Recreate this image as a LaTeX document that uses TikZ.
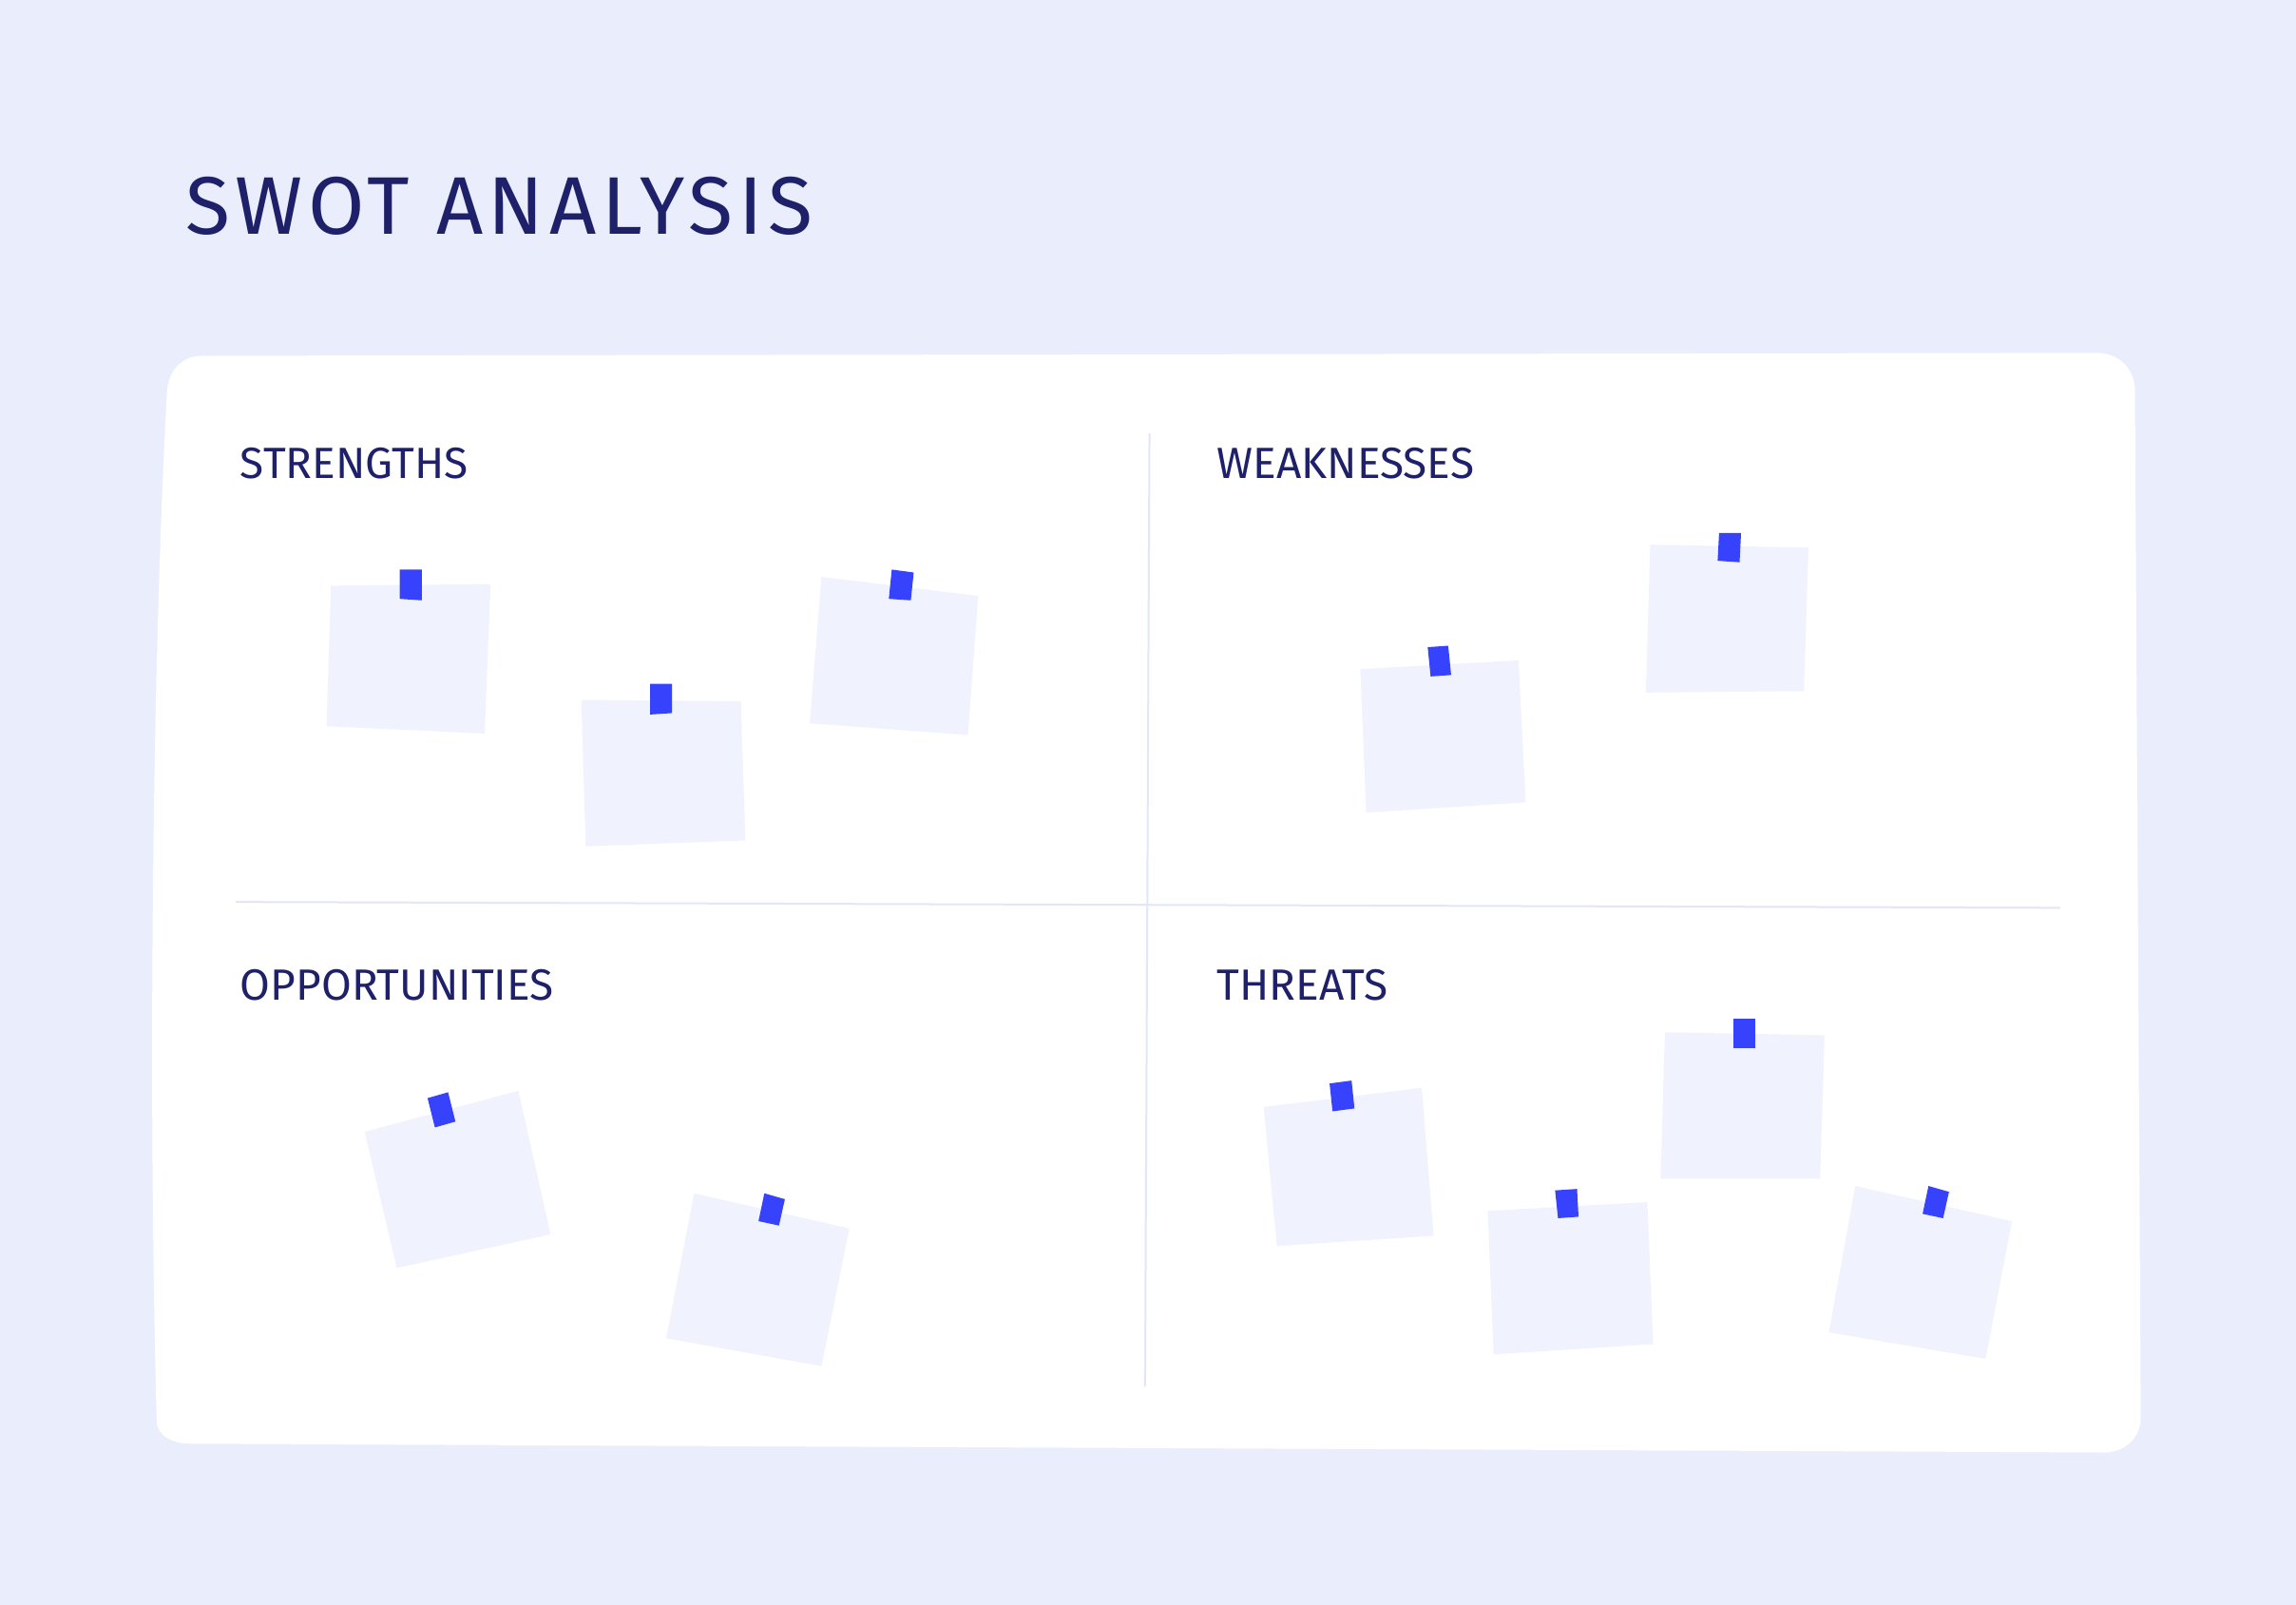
\documentclass[tikz,border=0pt]{standalone}
\usepackage{fontspec}
\setmainfont{Fira Sans}
\definecolor{bgc}{HTML}{EAEDFC}
\definecolor{notec}{HTML}{F0F3FE}
\definecolor{tapec}{HTML}{3742FD}
\definecolor{inkc}{HTML}{1E206A}
\definecolor{divc}{HTML}{E3E6F8}
\tikzset{
  notebox/.style={fill=notec},
  tapebox/.style={fill=tapec},
  divline/.style={draw=divc,line width=2pt},
  titletext/.style={text=inkc,font=\fontsize{86}{90}\selectfont\addfontfeatures{LetterSpace=6.5},anchor=base west,inner sep=0pt},
  headtext/.style={text=inkc,font=\fontsize{46}{50}\selectfont,anchor=base west,inner sep=0pt},
}
\begin{document}
\begin{tikzpicture}[x=1.5408pt,y=-1.5408pt]
\fill[bgc] (0,0) rectangle (1568,1096);
\useasboundingbox (0,0) rectangle (1568,1096);
% board
\fill[white] (138,243) -- (1432,241) .. controls (1447,241) and (1458,252) .. (1458,267)
  -- (1462,968) .. controls (1462,982) and (1451,992) .. (1437,992)
  -- (130,986) .. controls (117,986) and (107,980) .. (107,970)
  .. controls (101,750) and (104,450) .. (114,268)
  .. controls (115,252) and (125,243) .. (138,243) -- cycle;
% dividers
\coordinate (vt) at (785,296); \coordinate (vb) at (782,947);
\coordinate (hl) at (161,616); \coordinate (hr) at (1407,620);
\draw[divline] (vt) -- (vb);
\draw[divline] (hl) -- (hr);
% title and headings
\node[titletext] (title) at (127,160) {SWOT ANALYSIS};
\node[headtext] (s) at (164,327) {STRENGTHS};
\node[headtext] (w) at (831,327) {WEAKNESSES};
\node[headtext] (o) at (164,683) {OPPORTUNITIES};
\node[headtext] (t) at (831,683) {THREATS};
% strengths notes
\fill[notebox] (226,400) -- (335,399) -- (331,501) -- (223,496) -- cycle;
\fill[tapebox] (273,389) -- (288,389) -- (288,410) -- (273,409) -- cycle;
\fill[notebox] (397,478) -- (506,479) -- (509,574) -- (400,578) -- cycle;
\fill[tapebox] (444,467) -- (459,467) -- (459,487) -- (444,488) -- cycle;
\fill[notebox] (561,394) -- (668,407) -- (661,502) -- (553,494) -- cycle;
\fill[tapebox] (609,389) -- (624,391) -- (622,410) -- (607,409) -- cycle;
% weaknesses notes
\fill[notebox] (929,457) -- (1037,451) -- (1042,548) -- (933,555) -- cycle;
\fill[tapebox] (975,442) -- (989,441) -- (991,461) -- (977,462) -- cycle;
\fill[notebox] (1127,372) -- (1235,374) -- (1232,472) -- (1124,473) -- cycle;
\fill[tapebox] (1174,364) -- (1189,364) -- (1188,384) -- (1173,383) -- cycle;
% opportunities notes
\fill[notebox] (249,773) -- (354,745) -- (376,843) -- (271,866) -- cycle;
\fill[tapebox] (292,750) -- (306,746) -- (311,766) -- (297,770) -- cycle;
\fill[notebox] (474,815) -- (580,839) -- (561,933) -- (455,914) -- cycle;
\fill[tapebox] (522,815) -- (536,819) -- (532,837) -- (518,834) -- cycle;
% threats notes
\fill[notebox] (863,756) -- (971,743) -- (979,844) -- (872,851) -- cycle;
\fill[tapebox] (908,740) -- (923,738) -- (925,757) -- (910,759) -- cycle;
\fill[notebox] (1016,827) -- (1125,821) -- (1129,918) -- (1020,925) -- cycle;
\fill[tapebox] (1062,813) -- (1077,812) -- (1078,831) -- (1064,832) -- cycle;
\fill[notebox] (1137,705) -- (1246,707) -- (1243,805) -- (1134,805) -- cycle;
\fill[tapebox] (1184,696) -- (1199,696) -- (1199,716) -- (1184,716) -- cycle;
\fill[notebox] (1267,810) -- (1374,834) -- (1356,928) -- (1249,910) -- cycle;
\fill[tapebox] (1317,810) -- (1331,814) -- (1327,832) -- (1313,829) -- cycle;
\end{tikzpicture}
\end{document}
